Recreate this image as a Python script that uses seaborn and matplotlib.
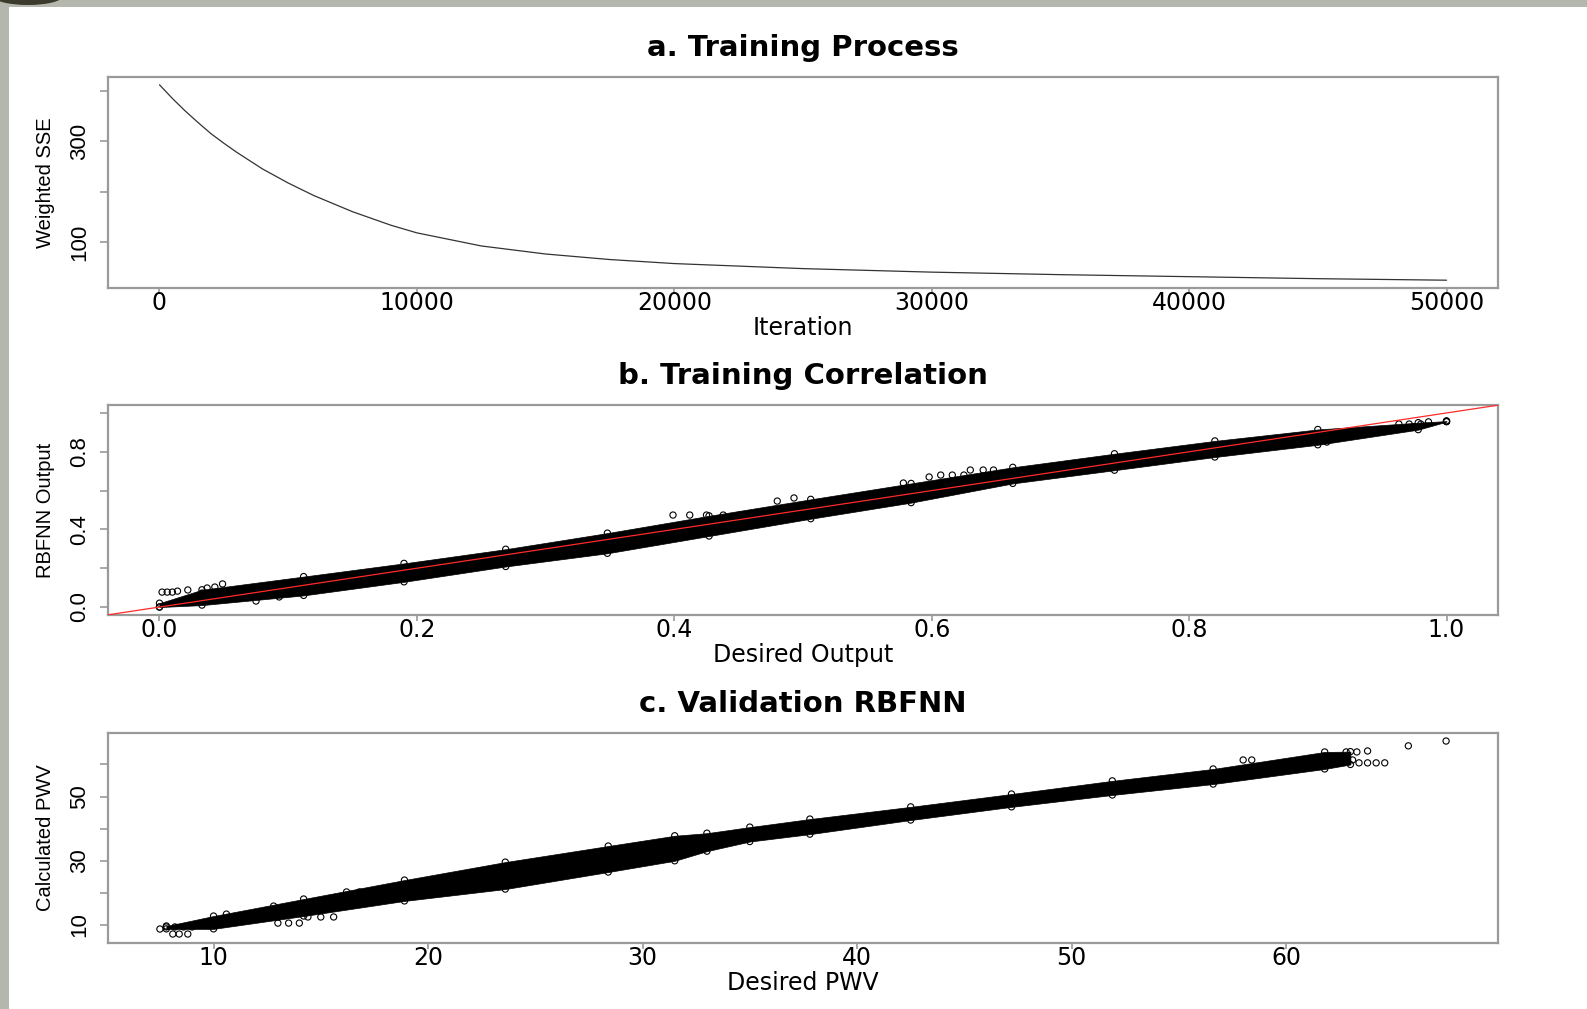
import matplotlib
matplotlib.use("Agg")
import matplotlib.pyplot as plt
import seaborn as sns
import pandas as pd
from matplotlib.patches import Rectangle, Ellipse

# ---- a. training curve (iteration vs weighted SSE) ----
iteration = [0, 500, 1000, 1500, 2000, 2500, 3000, 4000, 5000, 6000, 7500,
             9000, 10000, 12500, 15000, 17500, 20000, 25000, 30000, 35000,
             40000, 45000, 50000]
weighted_sse = [412, 385, 360, 337, 315, 296, 278, 245, 217, 192, 160,
                133, 118, 92, 76, 65, 57, 47, 40, 35,
                31, 27, 24]

# ---- b. training correlation: dense band edges + scattered points ----
band_b_x = [0.0, 0.033, 0.112, 0.19, 0.269, 0.348, 0.427, 0.506, 0.584,
            0.663, 0.742, 0.82, 0.9, 0.978, 1.0]
band_b_hi = [0.02, 0.089, 0.157, 0.225, 0.298, 0.381, 0.47, 0.555, 0.637,
             0.72, 0.79, 0.856, 0.915, 0.95, 0.958]
band_b_lo = [0.0, 0.01, 0.06, 0.13, 0.209, 0.277, 0.366, 0.455, 0.538,
             0.637, 0.705, 0.773, 0.836, 0.914, 0.955]
pts_b_x = [0.002, 0.006, 0.010, 0.014, 0.022, 0.037, 0.043, 0.049, 0.033,
           0.040, 0.0, 0.075, 0.093, 0.399, 0.412, 0.425, 0.438, 0.451,
           0.48, 0.493, 0.578, 0.598, 0.607, 0.616, 0.625, 0.63, 0.64,
           0.648, 0.963, 0.971, 0.98, 0.986, 1.0, 1.0, 0.907, 0.952, 0.975]
pts_b_y = [0.077, 0.077, 0.077, 0.082, 0.088, 0.098, 0.103, 0.119, 0.072,
           0.072, 0.0, 0.031, 0.052, 0.474, 0.474, 0.474, 0.474, 0.474,
           0.546, 0.562, 0.639, 0.67, 0.68, 0.68, 0.68, 0.706, 0.706,
           0.706, 0.943, 0.943, 0.943, 0.954, 0.959, 0.956, 0.85, 0.907, 0.928]

# ---- c. validation: desired vs calculated PWV ----
band_c_x = [7.8, 10.0, 14.2, 18.9, 23.6, 28.4, 31.5, 33.0, 35.0, 37.8,
            42.5, 47.2, 51.9, 56.6, 61.8, 63.0]
band_c_hi = [9.7, 12.8, 18.1, 24.0, 29.6, 34.6, 37.8, 38.6, 40.5, 43.0,
             46.8, 50.8, 54.9, 58.6, 63.9, 64.0]
band_c_lo = [8.8, 8.8, 12.8, 17.5, 21.2, 26.5, 30.0, 33.0, 36.0, 38.3,
             42.7, 46.8, 50.5, 53.9, 58.6, 60.0]
pts_c_x = [67.46, 65.7, 63.8, 62.8, 63.3, 63.1, 63.4, 63.8, 64.2, 64.6,
           58.0, 58.4, 7.5, 7.8, 8.2, 8.6, 9.0, 8.1, 8.4, 8.8, 13.0, 13.5,
           14.0, 14.4, 15.0, 15.6, 16.2, 16.8, 10.6, 12.8]
pts_c_y = [67.3, 65.8, 64.2, 63.9, 63.9, 61.4, 60.5, 60.5, 60.5, 60.5,
           61.4, 61.4, 8.75, 9.4, 9.4, 9.4, 9.4, 7.2, 7.2, 7.2, 10.6, 10.6,
           10.6, 12.5, 12.5, 12.5, 20.3, 20.3, 13.4, 15.9]

W, H = 1587, 1009
sns.set_theme(style="white")
plt.rcParams["font.family"] = ["DejaVu Sans"]
plt.rcParams["text.color"] = "black"
plt.rcParams["axes.labelcolor"] = "black"
plt.rcParams["xtick.color"] = "black"
plt.rcParams["ytick.color"] = "black"

fig = plt.figure(figsize=(W / 100, H / 100), dpi=100, facecolor="#b3b7ad")
fig.patches.append(Rectangle((9 / W, 0), 1 - 9 / W, 1 - 7 / H,
                             transform=fig.transFigure, facecolor="white",
                             edgecolor="none", zorder=-10))
fig.patches.append(Ellipse((28 / W, 1 + 4 / H), 70 / W, 18 / H,
                           transform=fig.transFigure, facecolor="#3b3a2c",
                           edgecolor="none", zorder=-9))

SPINE = "#9a9a9a"
SIDE = ["Liberation Sans", "DejaVu Sans"]


def panel(top_px, bottom_px):
    left, right = 108, 1498
    return fig.add_axes([left / W, 1 - bottom_px / H,
                         (right - left) / W, (bottom_px - top_px) / H])


def style(ax, title, xlabel, ylabel, xticks, xlabels, yticks, ylabels):
    ax.set_facecolor("white")
    for s in ax.spines.values():
        s.set_color(SPINE)
        s.set_linewidth(1.6)
        s.set_visible(True)
    ax.set_xticks(xticks)
    ax.set_xticklabels(xlabels, fontsize=17)
    ax.set_yticks(yticks)
    ax.set_yticklabels(ylabels, fontsize=16, rotation=90, va="center",
                       family=SIDE)
    ax.tick_params(axis="x", direction="out", length=4.5, width=1.2,
                   color=SPINE, labelcolor="black", pad=-2.5, bottom=True)
    ax.tick_params(axis="y", direction="out", length=5.8, width=1.2,
                   color=SPINE, labelcolor="black", pad=7, left=True)
    ax.set_xlabel(xlabel, fontsize=17)
    ax.xaxis.set_label_coords(0.5, -0.19)
    ax.xaxis.label.set_va("center")
    ax.set_ylabel(ylabel, fontsize=14.5, family=SIDE)
    ax.yaxis.set_label_coords(-0.0453, 0.5)
    ax.yaxis.label.set_va("center")
    ax.text(0.5, 1.138, title, transform=ax.transAxes, ha="center",
            va="center", fontsize=21, fontweight="bold", color="black")
    ax.grid(False)


# a. Training Process
ax1 = panel(77, 288)
df_a = pd.DataFrame({"Iteration": iteration, "SSE": weighted_sse})
sns.lineplot(data=df_a, x="Iteration", y="SSE", ax=ax1, color="#333333",
             linewidth=0.9)
ax1.set_xlim(-2000, 52000)
ax1.set_ylim(8.5, 427.5)
style(ax1, "a. Training Process", "Iteration", "Weighted SSE",
      [0, 10000, 20000, 30000, 40000, 50000],
      ["0", "10000", "20000", "30000", "40000", "50000"],
      [100, 200, 300, 400], ["100", "", "300", ""])

MK = dict(marker="o", s=20, facecolor="none", edgecolor="black",
          linewidth=0.8)

# b. Training Correlation
ax2 = panel(405, 615)
ax2.fill_between(band_b_x, band_b_lo, band_b_hi, color="black", lw=0.5)
sns.scatterplot(x=band_b_x + band_b_x, y=band_b_hi + band_b_lo, ax=ax2, **MK)
sns.scatterplot(x=pts_b_x, y=pts_b_y, ax=ax2, **MK)
ax2.set_xlim(-0.04, 1.04)
ax2.set_ylim(-0.041, 1.041)
ax2.plot([-0.04, 1.04], [-0.04, 1.04], color="#ff2a2a", lw=0.9, zorder=5)
style(ax2, "b. Training Correlation", "Desired Output", "RBFNN Output",
      [0.0, 0.2, 0.4, 0.6, 0.8, 1.0],
      ["0.0", "0.2", "0.4", "0.6", "0.8", "1.0"],
      [0.0, 0.2, 0.4, 0.6, 0.8, 1.0], ["0.0", "", "0.4", "", "0.8", ""])

# c. Validation RBFNN
ax3 = panel(733, 943)
ax3.fill_between(band_c_x, band_c_lo, band_c_hi, color="black", lw=0.5)
sns.scatterplot(x=band_c_x + band_c_x, y=band_c_hi + band_c_lo, ax=ax3, **MK)
sns.scatterplot(x=pts_c_x, y=pts_c_y, ax=ax3, **MK)
ax3.set_xlim(5.08, 69.88)
ax3.set_ylim(4.4, 69.8)
style(ax3, "c. Validation RBFNN", "Desired PWV", "Calculated PWV",
      [10, 20, 30, 40, 50, 60], ["10", "20", "30", "40", "50", "60"],
      [10, 20, 30, 40, 50, 60], ["10", "", "30", "", "50", ""])

fig.savefig("out.png", dpi=100, facecolor=fig.get_facecolor())
